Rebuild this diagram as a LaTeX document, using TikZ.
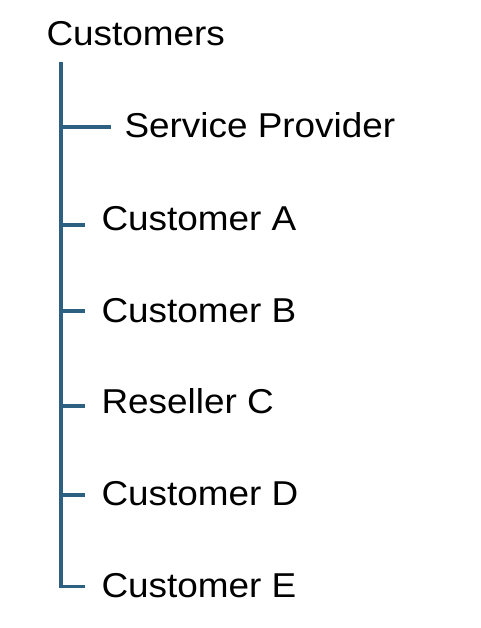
\documentclass[tikz,border=0pt]{standalone}
\usepackage{fontspec}
\setmainfont[FakeStretch=1.07]{Liberation Sans}
\definecolor{treeblue}{RGB}{46,96,130}
\begin{document}
\begin{tikzpicture}[x=1pt,y=-1pt,
  lbl/.style={anchor=base west,inner sep=0pt,outer sep=0pt,font=\fontsize{34.5}{40}\selectfont},
  branch/.style={draw=treeblue,line width=3.5pt}]
\useasboundingbox (0,0) rectangle (480,628);
\node[lbl] (root) at (46.5,46) {Customers};
\node[lbl] (sp) at (124.5,138) {Service Provider};
\node[lbl] (a) at (101.5,230.5) {Customer A};
\node[lbl] (b) at (101.5,322) {Customer B};
\node[lbl] (c) at (101.5,413) {Reseller C};
\node[lbl] (d) at (101.5,505) {Customer D};
\node[lbl] (e) at (101.5,597) {Customer E};
\coordinate (top) at (61,62);
\coordinate (jsp) at (61,127);
\coordinate (ksp) at (111,127);
\coordinate (ja) at (61,225);
\coordinate (ka) at (85,225);
\coordinate (jb) at (61,311);
\coordinate (kb) at (85,311);
\coordinate (jc) at (61,406);
\coordinate (kc) at (85,406);
\coordinate (jd) at (61,495);
\coordinate (kd) at (85,495);
\coordinate (ke) at (85,586.5);
\draw[branch] (top) |- (ke);
\draw[branch] (jsp) -- (ksp);
\draw[branch] (ja) -- (ka);
\draw[branch] (jb) -- (kb);
\draw[branch] (jc) -- (kc);
\draw[branch] (jd) -- (kd);
\end{tikzpicture}
\end{document}
